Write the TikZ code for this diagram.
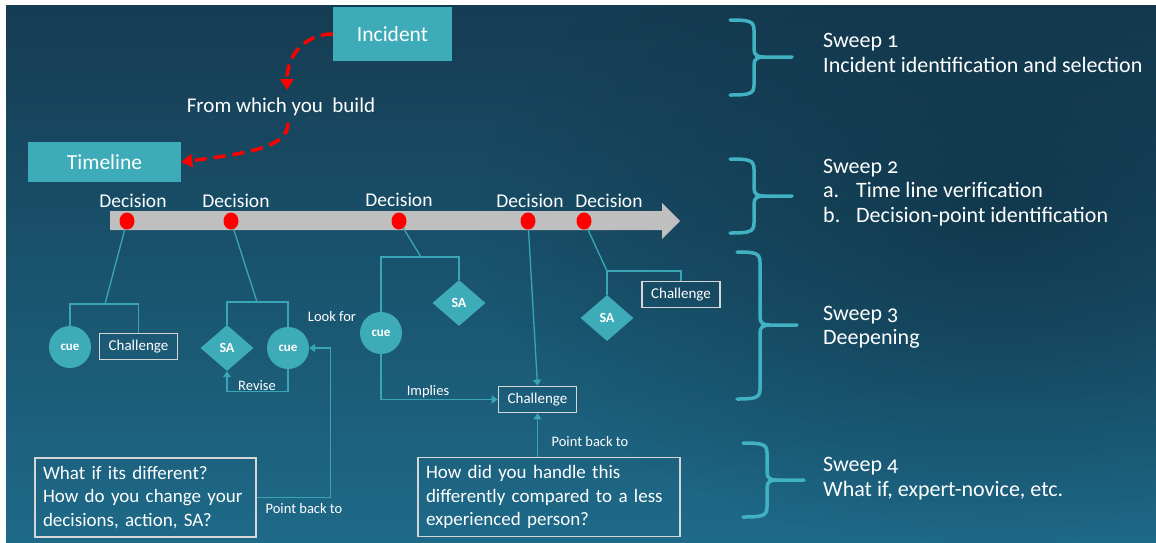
\documentclass[tikz,border=0pt]{standalone}
\usepackage{fontspec}
\setmainfont{Carlito}[Numbers=OldStyle]
\usetikzlibrary{shapes.geometric,arrows.meta,fadings}

\definecolor{bgtop}{HTML}{153C52}
\definecolor{bgbot}{HTML}{1E6A89}
\definecolor{bgdark}{HTML}{0B2838}
\definecolor{tealfill}{HTML}{3EABB9}
\definecolor{tealline}{HTML}{3AA6B5}
\definecolor{bracec}{HTML}{40B2C2}
\definecolor{barc}{HTML}{BFBFBF}
\definecolor{framec}{HTML}{D6D6D6}

\newcommand\fs[1]{\fontsize{#1}{#1}\selectfont}

% curly bracket with a stem: x left end, x spine, x stem end, y top, y stem, y bottom
\newcommand\sweepbrace[6]{%
  \draw[bracepath] (#1,#4) .. controls (#2-5,#4) and (#2,#4+1) .. (#2,#4+10)
    -- (#2,#5-8) .. controls (#2,#5-2) and (#2+3,#5) .. (#2+10,#5) -- (#3,#5)
    (#2+10,#5) .. controls (#2+3,#5) and (#2,#5+2) .. (#2,#5+8)
    -- (#2,#6-10) .. controls (#2,#6-1) and (#2-5,#6) .. (#1,#6);}

\tikzfading[name=softspot, inner color=transparent!0, outer color=transparent!100]

\begin{document}
\begin{tikzpicture}[x=1pt,y=-1pt,
  headbox/.style={fill=tealfill, text=white, inner sep=0pt, font=\fs{21.5}},
  plain/.style={text=white, inner sep=0pt},
  dot/.style={ellipse, fill=red, minimum width=15pt, minimum height=17pt, inner sep=0pt},
  cuenode/.style={circle, fill=tealfill, minimum size=42pt, inner sep=0pt, text=white, font=\fs{13}\bfseries},
  sanode/.style={diamond, fill=tealfill, minimum width=53pt, minimum height=46pt, inner sep=0pt, text=white, font=\fs{14}\bfseries},
  chbox/.style={draw=framec, line width=1.6pt, minimum width=78pt, minimum height=26pt, inner sep=0pt, text=white, font=\fs{15}},
  qbox/.style={draw=framec, line width=1.6pt, text=white, align=left, inner xsep=8pt, inner ysep=0pt, font=\fontsize{19}{23.5}\selectfont},
  tline/.style={draw=tealline, line width=1.3pt},
  tarrow/.style={tline, -{Triangle[width=8pt,length=6pt]}},
  redarrow/.style={draw=red, line width=3.5pt, dash pattern=on 12pt off 7pt, -{Triangle[width=13pt,length=11pt]}},
  lbl/.style={text=white, inner sep=0pt, font=\fs{14.5}},
  declbl/.style={text=white, inner sep=0pt, font=\fs{19.5}},
  sweeptxt/.style={text=white, inner sep=0pt, anchor=base west, font=\fs{22}},
  bracepath/.style={draw=bracec, line width=3.5pt, line cap=round}
]
\useasboundingbox (0,0) rectangle (1156,542);
\fill[white] (0,0) rectangle (1156,542);

% backdrop
\begin{scope}
  \clip (6,5) rectangle (1156,542);
  \shade[top color=bgtop, bottom color=bgbot] (6,5) rectangle (1156,542);
  \fill[bgdark, opacity=0.55, path fading=softspot] (1000,220) ellipse [x radius=520, y radius=330];
\end{scope}

% start of the chain
\node[headbox, minimum width=119pt, minimum height=54pt] (incident) at (392.5,34) {Incident};
\node[headbox, minimum width=153pt, minimum height=40pt] (timeline) at (104.5,162) {Timeline};
\node[plain, font=\fs{21}] (build) at (281,107) {From which you\ \ build};
\coordinate (buildtop) at (287,90);
\coordinate (buildbot) at (288,123);
\draw[redarrow] (incident.west) .. controls (308,34) and (287,52) .. (buildtop);
\draw[redarrow] (buildbot) .. controls (288,147) and (250,153) .. (timeline.east);

% time line
\fill[barc] (110,211) -- (662,211) -- (662,203) -- (680,221) -- (662,239) -- (662,230) -- (110,230) -- cycle;

\node[dot] (d1) at (127,221) {};
\node[dot] (d2) at (231,221) {};
\node[dot] (d3) at (399,221) {};
\node[dot] (d4) at (528,221) {};
\node[dot] (d5) at (584,221) {};
\node[declbl] (lab1) at (133,201) {Decision};
\node[declbl] (lab2) at (236,201) {Decision};
\node[declbl] (lab3) at (399,200) {Decision};
\node[declbl] (lab4) at (530,201) {Decision};
\node[declbl] (lab5) at (609,201) {Decision};

% first decision
\node[cuenode] (cue1) at (70,347) {cue};
\node[chbox] (ch1) at (138.5,346.5) {Challenge};
\coordinate (j1) at (105,304);
\draw[tline] (d1) -- (j1);
\draw[tline] (cue1.north) |- (j1) -| (ch1.north);

% second decision
\node[sanode] (sa2) at (227,348) {SA};
\node[cuenode] (cue2) at (288,348) {cue};
\coordinate (j2) at (257,302);
\draw[tline] (d2) -- (j2);
\draw[tline] (sa2.north) |- (j2) -| (cue2.north);
\draw[tarrow] (cue2.south) -- ++(0,22) -| (sa2.south);
\node[lbl] (revise) at (257,386) {Revise};

\node[qbox, text width=205pt, minimum height=79pt] (whatif) at (145.5,497.5)
  {What if its different?\\How do you change your\\decisions, action, SA?};
\draw[tarrow] (whatif.east) -- ++(74,0) |- (cue2.east);
\node[lbl] (lookfor) at (332,317) {Look for};
\node[lbl] (pback1) at (304,509) {Point back to};

% third and fourth decisions
\node[cuenode] (cue3) at (381,333) {cue};
\node[sanode] (sa3) at (459,303) {SA};
\coordinate (j3) at (421,257);
\draw[tline] (d3) -- (j3);
\draw[tline] (cue3.north) |- (j3) -| (sa3.north);
\node[chbox] (ch3) at (537.5,399.5) {Challenge};
\draw[tarrow] (cue3.south) |- (ch3.west);
\node[lbl] (implies) at (428,392) {Implies};
\draw[tarrow] (d4) -- (ch3.north);

\node[qbox, text width=246pt, minimum height=79pt] (howdid) at (549,497)
  {How did you handle this\\differently compared to a less\\experienced person?};
\draw[tarrow] (ch3.south |- howdid.north) -- (ch3.south);
\node[lbl] (pback2) at (590,442) {Point back to};

% fifth decision
\node[sanode] (sa5) at (607,318) {SA};
\node[chbox] (ch5) at (681,294.5) {Challenge};
\coordinate (j5) at (607,271);
\draw[tline] (d5) -- (j5);
\draw[tline] (sa5.north) |- (j5) -| (ch5.north);

% sweeps
\sweepbrace{730}{754}{792}{20}{57}{95}
\sweepbrace{730}{754}{792}{159}{196}{233}
\sweepbrace{737}{760}{797}{252}{325}{399}
\sweepbrace{743}{767}{804}{443}{480}{517}

\node[sweeptxt] (s1a) at (823,47) {Sweep 1};
\node[sweeptxt] (s1b) at (823,72) {Incident identification and selection};
\node[sweeptxt] (s2a) at (823,173) {Sweep 2};
\node[sweeptxt] (s2b) at (823,197) {a.};
\node[sweeptxt] (s2c) at (856,197) {Time line verification};
\node[sweeptxt] (s2d) at (823,222) {b.};
\node[sweeptxt] (s2e) at (856,222) {Decision-point identification};
\node[sweeptxt] (s3a) at (823,320) {Sweep 3};
\node[sweeptxt] (s3b) at (823,344) {Deepening};
\node[sweeptxt] (s4a) at (823,471) {Sweep 4};
\node[sweeptxt] (s4b) at (823,496) {What if, expert-novice, etc.};
\end{tikzpicture}
\end{document}
